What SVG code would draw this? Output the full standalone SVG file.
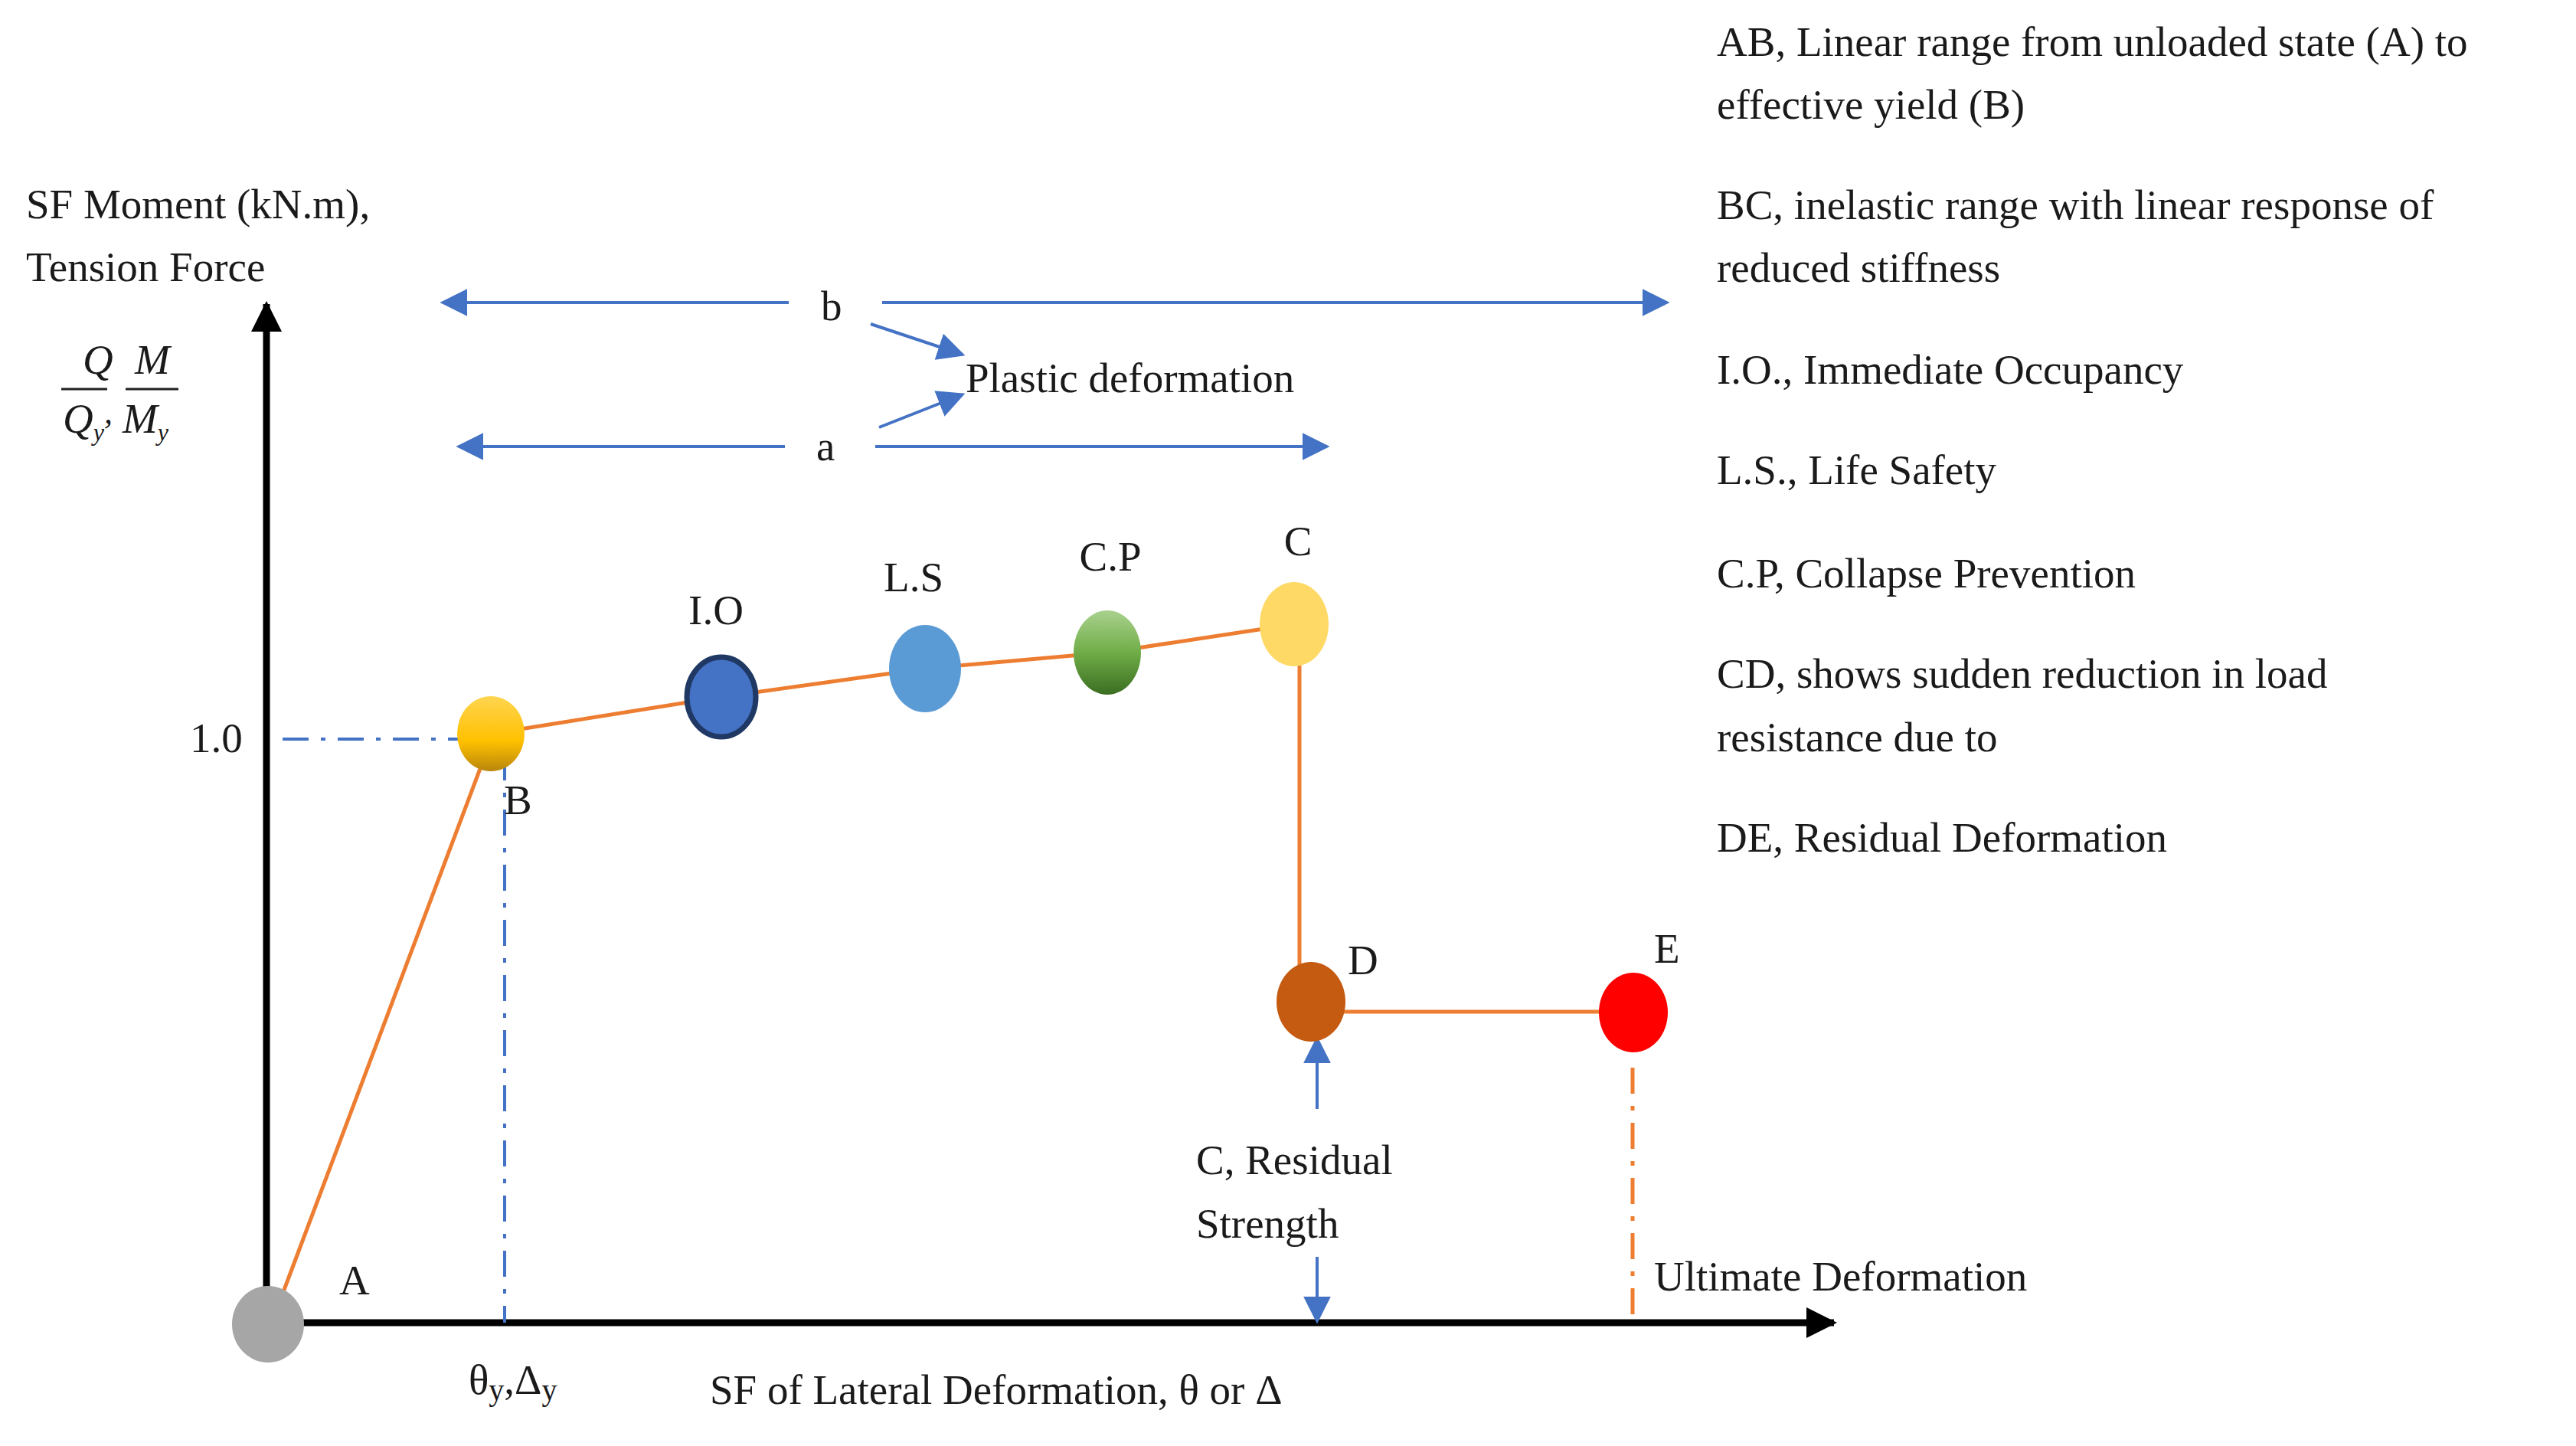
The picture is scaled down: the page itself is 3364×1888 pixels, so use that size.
<svg xmlns="http://www.w3.org/2000/svg" width="3364" height="1888" viewBox="0 0 3364 1888">
<style>
text{font-family:"Liberation Serif","DejaVu Serif",serif;font-size:55px;fill:#1a1a1a}
.blue{stroke:#4472C4;stroke-width:4;fill:none}
.org{stroke:#ED7D31;stroke-width:5;fill:none}
.dd{stroke-dasharray:34,16,6,16}
</style>
<defs>
<marker id="bh" viewBox="0 0 10 10" refX="9" refY="5" markerWidth="9" markerHeight="9" orient="auto-start-reverse" markerUnits="strokeWidth"><path d="M0,0L10,5L0,10z" fill="#4472C4"/></marker>
<marker id="kh" viewBox="0 0 10 10" refX="9" refY="5" markerWidth="4.5" markerHeight="4.5" orient="auto" markerUnits="strokeWidth"><path d="M0,0L10,5L0,10z" fill="#000"/></marker>
<linearGradient id="gB" x1="0" y1="0" x2="0" y2="1"><stop offset="0" stop-color="#FFD54F"/><stop offset="0.6" stop-color="#FFC000"/><stop offset="1" stop-color="#B8860B"/></linearGradient>
<linearGradient id="gCP" x1="0" y1="0" x2="0" y2="1"><stop offset="0" stop-color="#A9D18E"/><stop offset="0.5" stop-color="#70AD47"/><stop offset="1" stop-color="#3B6E22"/></linearGradient>
</defs>
<g id="connectors">
<line x1="348" y1="1727" x2="348" y2="397" stroke="#000" stroke-width="9" marker-end="url(#kh)"/>
<line x1="348" y1="1727" x2="2395" y2="1727" stroke="#000" stroke-width="9" marker-end="url(#kh)"/>
<polyline class="org" points="365,1700 634,985 642,958 942,910 1208,873 1446,852 1690,815"/>
<line class="org" x1="1697" y1="840" x2="1697" y2="1290"/>
<line class="org" x1="1712" y1="1321" x2="2132" y2="1321"/>
<line class="blue dd" x1="369" y1="965" x2="620" y2="965" stroke-width="6"/>
<line class="blue dd" x1="659" y1="985" x2="659" y2="1727" stroke-width="6"/>
<line class="org dd" x1="2132" y1="1394" x2="2132" y2="1716" stroke-width="6"/>
<line class="blue" x1="1030" y1="395" x2="578" y2="395" marker-end="url(#bh)"/>
<line class="blue" x1="1152" y1="395" x2="2177" y2="395" marker-end="url(#bh)"/>
<line class="blue" x1="1025" y1="583" x2="599" y2="583" marker-end="url(#bh)"/>
<line class="blue" x1="1143" y1="583" x2="1733" y2="583" marker-end="url(#bh)"/>
<line class="blue" x1="1137" y1="423" x2="1257" y2="463" marker-end="url(#bh)"/>
<line class="blue" x1="1148" y1="558" x2="1257" y2="515" marker-end="url(#bh)"/>
<line class="blue" x1="1720" y1="1448" x2="1720" y2="1356" marker-end="url(#bh)"/>
<line class="blue" x1="1720" y1="1641" x2="1720" y2="1725" marker-end="url(#bh)"/>
</g>
<g id="A"><ellipse cx="350" cy="1729" rx="47" ry="50" fill="#A6A6A6"/><text x="443" y="1690">A</text></g>
<g id="B"><ellipse cx="641" cy="958" rx="44" ry="49" fill="url(#gB)"/><text x="658" y="1063">B</text></g>
<g id="IO"><ellipse cx="942" cy="910" rx="45" ry="52" fill="#4472C4" stroke="#1F3864" stroke-width="7"/><text x="935" y="815" text-anchor="middle">I.O</text></g>
<g id="LS"><ellipse cx="1208" cy="873" rx="47" ry="57" fill="#5B9BD5"/><text x="1193" y="772" text-anchor="middle">L.S</text></g>
<g id="CP"><ellipse cx="1446" cy="852" rx="44" ry="55" fill="url(#gCP)"/><text x="1450" y="745" text-anchor="middle">C.P</text></g>
<g id="C"><ellipse cx="1690" cy="815" rx="45" ry="55" fill="#FFD966"/><text x="1695" y="725" text-anchor="middle">C</text></g>
<g id="D"><ellipse cx="1712" cy="1308" rx="45" ry="52" fill="#C55A11"/><text x="1760" y="1272">D</text></g>
<g id="E"><ellipse cx="2133" cy="1322" rx="45" ry="52" fill="#FF0000"/><text x="2160" y="1257">E</text></g>
<g id="labels">
<text x="34" y="285">SF Moment (kN.m),</text>
<text x="34" y="367">Tension Force</text>
<text x="108" y="488" font-style="italic" font-size="44">Q</text>
<line x1="80" y1="508" x2="140" y2="508" stroke="#222" stroke-width="3"/>
<text x="82" y="565" font-style="italic" font-size="44">Q<tspan font-size="32" dy="10">y</tspan><tspan dy="-22" font-size="44">,</tspan></text>
<text x="176" y="488" font-style="italic" font-size="44">M</text>
<line x1="164" y1="508" x2="233" y2="508" stroke="#222" stroke-width="3"/>
<text x="160" y="565" font-style="italic" font-size="44">M<tspan font-size="32" dy="10">y</tspan></text>
<text x="248" y="982">1.0</text>
<text x="612" y="1820">θ<tspan font-size="40" dy="8">y</tspan><tspan dy="-8">,Δ</tspan><tspan font-size="40" dy="8">y</tspan></text>
<text x="927" y="1833">SF of Lateral Deformation, θ or Δ</text>
<text x="1072" y="418">b</text>
<text x="1066" y="601">a</text>
<text x="1261" y="512">Plastic deformation</text>
<text x="1562" y="1533">C, Residual</text>
<text x="1562" y="1616">Strength</text>
<text x="2160" y="1685">Ultimate Deformation</text>
<text x="2242" y="73">AB, Linear range from unloaded state (A) to</text>
<text x="2242" y="155">effective yield (B)</text>
<text x="2242" y="286">BC, inelastic range with linear response of</text>
<text x="2242" y="368">reduced stiffness</text>
<text x="2242" y="501">I.O., Immediate Occupancy</text>
<text x="2242" y="632">L.S., Life Safety</text>
<text x="2242" y="767">C.P, Collapse Prevention</text>
<text x="2242" y="898">CD, shows sudden reduction in load</text>
<text x="2242" y="981">resistance due to</text>
<text x="2242" y="1112">DE, Residual Deformation</text>
</g>
</svg>
